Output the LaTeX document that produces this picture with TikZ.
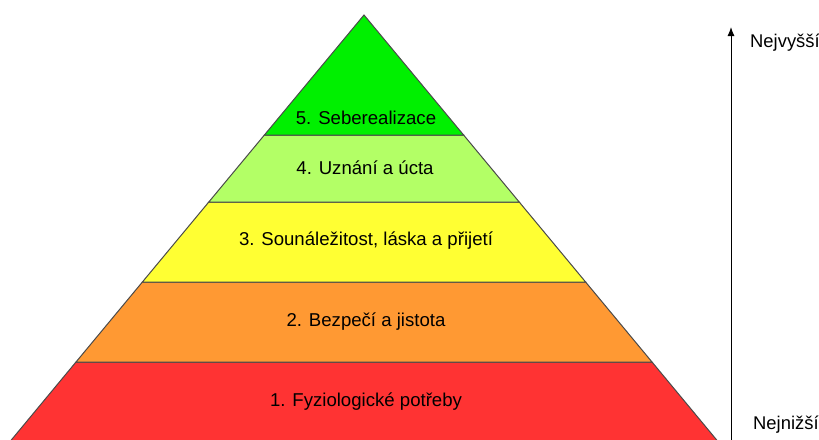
\documentclass[tikz,border=0pt]{standalone}
\usepackage{fontspec}
\setmainfont{Liberation Sans}
\usetikzlibrary{arrows.meta}
\definecolor{cfive}{HTML}{00F000}
\definecolor{cfour}{HTML}{B3FF66}
\definecolor{cthree}{HTML}{FFFF33}
\definecolor{ctwo}{HTML}{FF9933}
\definecolor{cone}{HTML}{FF3333}
\definecolor{edge}{HTML}{4A4A4A}
\begin{document}
\begin{tikzpicture}[x=1pt,y=-1pt,
  layer/.style={draw=edge,line width=1pt,line join=miter},
  lbl/.style={font=\fontsize{18.6}{22}\selectfont,inner sep=0pt,anchor=center},
  side/.style={font=\fontsize{18.4}{22}\selectfont,inner sep=0pt,anchor=west}]
\useasboundingbox (0,0) rectangle (819,439);
\fill[white] (0,0) rectangle (819,439);
% layers (bottom to top)
\path[layer,fill=cone]   (76,362) -- (652,362) -- (725,450) -- (3,450) -- cycle;
\path[layer,fill=ctwo]   (142.4,282) -- (585.6,282) -- (652,362) -- (76,362) -- cycle;
\path[layer,fill=cthree] (208.8,202) -- (519.2,202) -- (585.6,282) -- (142.4,282) -- cycle;
\path[layer,fill=cfour]  (264.4,135) -- (463.6,135) -- (519.2,202) -- (208.8,202) -- cycle;
\path[layer,fill=cfive]  (364,15) -- (463.6,135) -- (264.4,135) -- cycle;
% labels
\node[lbl] (l5) at (366,118) {5. Seberealizace};
\node[lbl] (l4) at (365,168) {4. Uznání a úcta};
\node[lbl] (l3) at (366,241) {3. Sounáležitost, láska a přijetí};
\node[lbl] (l2) at (366,322) {2. Bezpečí a jistota};
\node[lbl] (l1) at (366,402) {1. Fyziologické potřeby};
% scale arrow
\coordinate (lo) at (731,440);
\coordinate (hi) at (731,27);
\draw[line width=1pt,-{Latex[length=9pt,width=7pt]}] (lo) -- (hi);
\node[side] (top) at (750,43) {Nejvyšší};
\node[side] (bot) at (753,425) {Nejnižší};
\end{tikzpicture}
\end{document}
